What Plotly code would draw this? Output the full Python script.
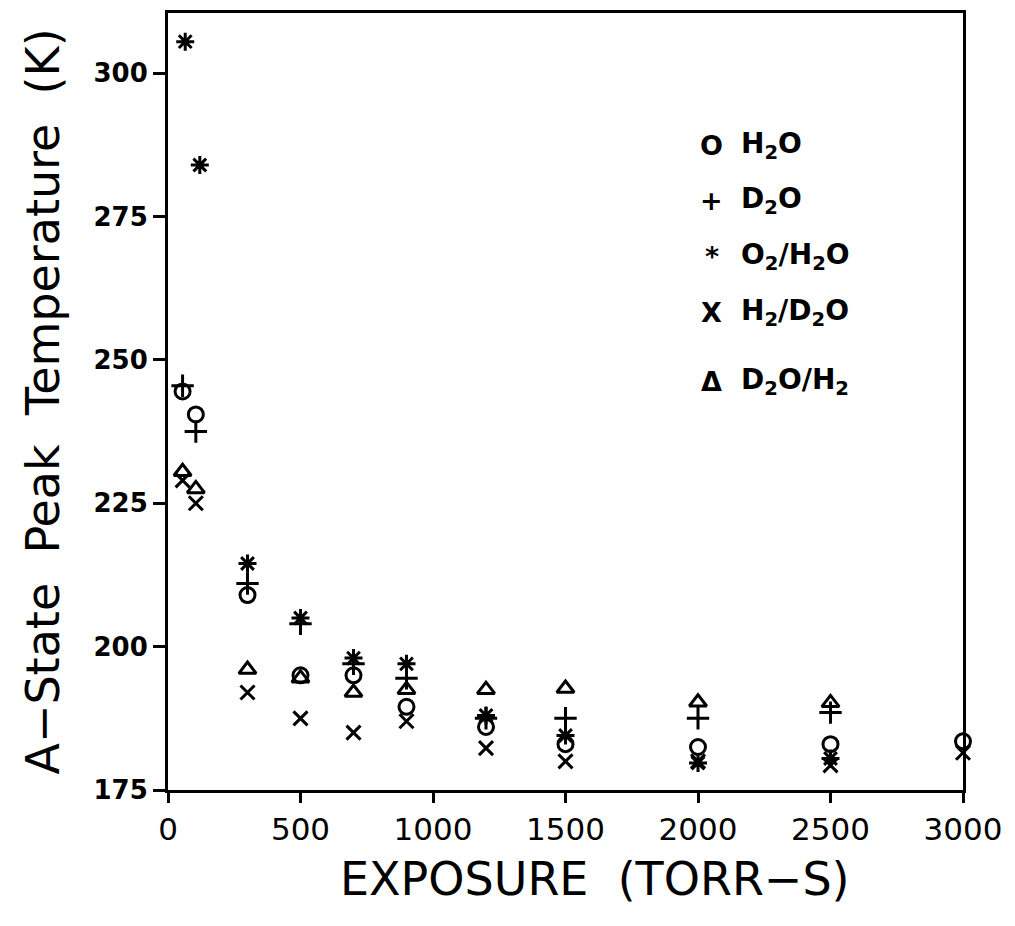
import plotly.graph_objects as go

# Exposure (Torr-s) and A-state peak temperature (K) for each gas system
h2o_x = [55, 105, 300, 500, 700, 900, 1200, 1500, 2000, 2500, 3000]
h2o_y = [244.5, 240.5, 209, 195, 195, 189.5, 186, 183, 182.5, 183, 183.5]

d2o_x = [55, 105, 300, 500, 700, 900, 1200, 1500, 2000, 2500]
d2o_y = [245.5, 237.5, 211, 204, 197, 194.5, 187.5, 187.5, 187.5, 188.5]

o2h2o_x = [65, 120, 300, 500, 700, 900, 1200, 1500, 2000, 2500]
o2h2o_y = [305.5, 284, 214.5, 205, 198, 197, 188, 184.5, 179.7, 180.5]

h2d2o_x = [55, 105, 300, 500, 700, 900, 1200, 1500, 2000, 2500, 3000]
h2d2o_y = [229, 225, 192, 187.5, 185, 187, 182.3, 180, 180, 179.3, 181.5]

d2oh2_x = [55, 105, 300, 500, 700, 900, 1200, 1500, 2000, 2500]
d2oh2_y = [230.5, 227.5, 196, 194.5, 192, 192.5, 192.5, 192.7, 190.3, 190.2]

x_ticks = [0, 500, 1000, 1500, 2000, 2500, 3000]
y_ticks = [175, 200, 225, 250, 275, 300]

legend_symbols = ["O", "+", "*", "X", "Δ"]
legend_labels = ["H<sub>2</sub>O", "D<sub>2</sub>O", "O<sub>2</sub>/H<sub>2</sub>O",
                 "H<sub>2</sub>/D<sub>2</sub>O", "D<sub>2</sub>O/H<sub>2</sub>"]

series = [
    (h2o_x, h2o_y, "circle-open", 15),
    (d2o_x, d2o_y, "cross-thin-open", 16),
    (o2h2o_x, o2h2o_y, "asterisk-open", 15),
    (h2d2o_x, h2d2o_y, "x-thin-open", 14),
    (d2oh2_x, d2oh2_y, "triangle-up-open", 15),
]

fig = go.Figure()
for (xs, ys, sym, size), name in zip(series, legend_labels):
    fig.add_trace(go.Scatter(
        x=xs, y=ys, mode="markers", name=name, cliponaxis=False,
        marker=dict(symbol=sym, size=size, color="black",
                    line=dict(color="black", width=3)),
    ))

# Hand-lettered key in the upper right of the frame
row_y = [0.829, 0.759, 0.686, 0.615, 0.526]
for sym, lab, yy in zip(legend_symbols, legend_labels, row_y):
    fig.add_annotation(xref="paper", yref="paper", x=0.684, y=yy, text=sym,
                       showarrow=False, xanchor="center", yanchor="middle",
                       font=dict(family="DejaVu Sans", size=27, color="black", weight="bold"))
    fig.add_annotation(xref="paper", yref="paper", x=0.718, y=yy, text=lab,
                       showarrow=False, xanchor="left", yanchor="middle",
                       font=dict(family="DejaVu Sans", size=28, color="black", weight="bold"))

# x-axis caption, set a little right of the frame centre
fig.add_annotation(xref="paper", yref="paper", x=0.537, y=-0.115,
                   text="EXPOSURE\u00a0\u00a0(TORR−S)", showarrow=False,
                   xanchor="center", yanchor="middle",
                   font=dict(family="DejaVu Sans", size=46, color="black"))

fig.update_layout(
    width=1015, height=926,
    margin=dict(l=168, r=52, t=10, b=136),
    paper_bgcolor="white", plot_bgcolor="white",
    showlegend=False,
    xaxis=dict(
        range=[0, 3000], tickvals=x_ticks, ticktext=[str(v) for v in x_ticks],
        showgrid=False, zeroline=False,
        showline=True, linewidth=3, linecolor="black", mirror=True,
        ticks="outside", ticklen=10, tickwidth=3, tickcolor="black",
        tickfont=dict(family="DejaVu Sans", size=31, color="black"),
    ),
    yaxis=dict(
        range=[175, 310.5], tickvals=y_ticks, ticktext=[str(v) for v in y_ticks],
        showgrid=False, zeroline=False,
        showline=True, linewidth=3, linecolor="black", mirror=True,
        ticks="outside", ticklen=12, tickwidth=3, tickcolor="black",
        tickfont=dict(family="DejaVu Sans", size=26, color="black", weight="bold"),
        title=dict(text="A−State\u00a0\u00a0Peak\u00a0\u00a0Temperature\u00a0\u00a0(K)", standoff=20,
                   font=dict(family="DejaVu Sans", size=46, color="black")),
    ),
)

fig.write_html("out.html")
